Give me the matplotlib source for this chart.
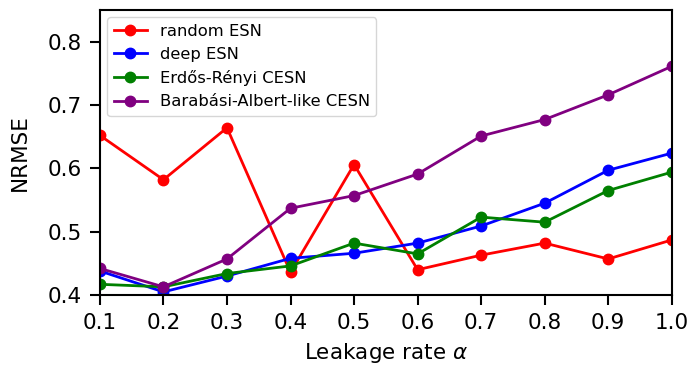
import numpy as np
import matplotlib
matplotlib.use('Agg')
import matplotlib.pyplot as plt

# leakage rates swept
alpha = [0.1, 0.2, 0.3, 0.4, 0.5, 0.6, 0.7, 0.8, 0.9, 1.0]

# NRMSE per model
random_esn = [0.652, 0.582, 0.664, 0.436, 0.606, 0.440, 0.463, 0.482, 0.457, 0.487]
deep_esn   = [0.438, 0.405, 0.430, 0.458, 0.466, 0.482, 0.509, 0.545, 0.597, 0.624]
er_cesn    = [0.417, 0.413, 0.434, 0.446, 0.482, 0.465, 0.523, 0.515, 0.565, 0.594]
ba_cesn    = [0.442, 0.413, 0.457, 0.537, 0.557, 0.591, 0.651, 0.677, 0.716, 0.761]

series = [
    ("random ESN", random_esn, "red"),
    ("deep ESN", deep_esn, "blue"),
    ("Erdős-Rényi CESN", er_cesn, "green"),
    ("Barabási-Albert-like CESN", ba_cesn, "purple"),
]

fig = plt.figure(figsize=(6.89, 3.67), dpi=100)
ax = fig.add_axes([0.145, 0.196, 0.830, 0.777])

for name, vals, col in series:
    ax.plot(alpha, vals, '-o', color=col, label=name, linewidth=2.0, markersize=7.5)

ax.set_xlim(0.1, 1.0)
ax.set_ylim(0.4, 0.85)
ax.set_xticks(alpha)
ax.set_yticks([0.4, 0.5, 0.6, 0.7, 0.8])
ax.tick_params(labelsize=15.5, width=1.5, length=7, pad=6)
for s in ax.spines.values():
    s.set_linewidth(1.5)

ax.set_xlabel(r"Leakage rate $\alpha$", fontsize=15.5, labelpad=6)
ax.set_ylabel("NRMSE", fontsize=15.5, labelpad=13)
ax.legend(loc='upper left', fontsize=11.8, labelspacing=0.5, borderaxespad=0.45)

fig.savefig("out.png", dpi=100)
